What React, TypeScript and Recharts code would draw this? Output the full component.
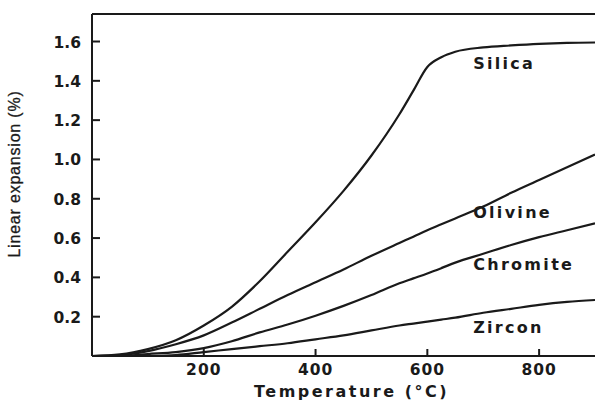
import React from 'react';
import { LineChart, Line, XAxis, YAxis, ReferenceLine, ReferenceDot } from 'recharts';

// temperature (°C)
const temps = [0, 50, 100, 150, 200, 250, 300, 350, 400, 450, 500, 550, 575, 600, 625, 650, 700, 750, 800, 850, 900];

// linear expansion (%) per material
const silica = [0, 0.008, 0.035, 0.08, 0.155, 0.25, 0.38, 0.53, 0.68, 0.84, 1.02, 1.23, 1.35, 1.47, 1.52, 1.548, 1.57, 1.58, 1.588, 1.593, 1.595];
const olivine = [0, 0.005, 0.025, 0.06, 0.105, 0.17, 0.24, 0.31, 0.375, 0.44, 0.51, 0.575, 0.607, 0.64, 0.67, 0.7, 0.76, 0.83, 0.895, 0.96, 1.025];
const chromite = [0, 0, 0.01, 0.02, 0.04, 0.075, 0.12, 0.16, 0.205, 0.255, 0.31, 0.37, 0.395, 0.42, 0.447, 0.475, 0.52, 0.565, 0.605, 0.64, 0.675];
const zircon = [0, 0, 0, 0.005, 0.02, 0.035, 0.05, 0.065, 0.085, 0.105, 0.13, 0.155, 0.165, 0.175, 0.185, 0.195, 0.22, 0.24, 0.26, 0.275, 0.285];

const xTicks = [200, 400, 600, 800];
const yTicks = [0.2, 0.4, 0.6, 0.8, 1.0, 1.2, 1.4, 1.6];

// curve name labels (placed in data coordinates)
const curveLabels = [
  { name: 'Silica', t: 682, v: 1.46 },
  { name: 'Olivine', t: 682, v: 0.7 },
  { name: 'Chromite', t: 682, v: 0.438 },
  { name: 'Zircon', t: 682, v: 0.117 },
];

const data = temps.map((t, i) => ({
  t,
  silica: silica[i],
  olivine: olivine[i],
  chromite: chromite[i],
  zircon: zircon[i],
}));

const ink = '#1a1a1a';
const font = '"DejaVu Sans", Arial, sans-serif';

const YTick = (props: any) => {
  const { x, y, payload } = props;
  return (
    <g>
      <line x1={x} y1={y} x2={x + 8} y2={y} stroke={ink} strokeWidth={2} />
      <text x={x - 11} y={y + 6} textAnchor="end" fontSize={15.5} fontWeight="bold" fill={ink} fontFamily={font}>
        {payload.value.toFixed(1)}
      </text>
    </g>
  );
};

const XTick = (props: any) => {
  const { x, y, payload } = props;
  return (
    <g>
      <line x1={x} y1={y} x2={x} y2={y - 7} stroke={ink} strokeWidth={2} />
      <text x={x} y={y + 19} textAnchor="middle" fontSize={15.5} fontWeight="bold" fill={ink} fontFamily={font} letterSpacing={1}>
        {payload.value}
      </text>
    </g>
  );
};

const CurveLabel = (props: any) => {
  const { viewBox, value } = props;
  return (
    <text x={viewBox.x} y={viewBox.y} fontSize={16} fontWeight="bold" fill={ink} fontFamily={font} letterSpacing={2.3}>
      {value}
    </text>
  );
};

export default function App() {
  const series = ['silica', 'olivine', 'chromite', 'zircon'];
  return (
    <div style={{ position: 'absolute', left: 0, top: 0, width: 595, height: 401, background: '#fff' }}>
      <LineChart width={595} height={401} data={data} margin={{ top: 14, right: 0, left: 0, bottom: 0 }}>
        <XAxis
          dataKey="t"
          type="number"
          domain={[0, 900]}
          ticks={xTicks}
          height={45}
          tickSize={0}
          tickMargin={0}
          axisLine={{ stroke: ink, strokeWidth: 2 }}
          tickLine={false}
          tick={<XTick />}
          label={{
            value: 'Temperature (°C)',
            position: 'insideBottom',
            offset: 4,
            dx: 8,
            style: { fontSize: 16, fontWeight: 'bold', fill: ink, fontFamily: font, letterSpacing: 2.5 },
          }}
        />
        <YAxis
          type="number"
          domain={[0, 1.74]}
          ticks={yTicks}
          width={92}
          tickSize={0}
          tickMargin={0}
          axisLine={{ stroke: ink, strokeWidth: 2 }}
          tickLine={false}
          tick={<YTick />}
          label={{
            value: 'Linear expansion (%)',
            angle: -90,
            position: 'insideLeft',
            offset: 14,
            dy: -11,
            style: { fontSize: 16, fill: ink, fontFamily: '"Liberation Sans", Arial, sans-serif', letterSpacing: 0.8, textAnchor: 'middle', stroke: ink, strokeWidth: 0.3 },
          }}
        />
        <ReferenceLine y={1.74} stroke={ink} strokeWidth={2} />
        {series.map((key) => (
          <Line
            key={key}
            dataKey={key}
            type="monotone"
            stroke={ink}
            strokeWidth={2.2}
            dot={false}
            isAnimationActive={false}
          />
        ))}
        {curveLabels.map((l) => (
          <ReferenceDot
            key={l.name}
            x={l.t}
            y={l.v}
            r={0}
            fill="none"
            stroke="none"
            label={<CurveLabel value={l.name} />}
          />
        ))}
      </LineChart>
    </div>
  );
}
